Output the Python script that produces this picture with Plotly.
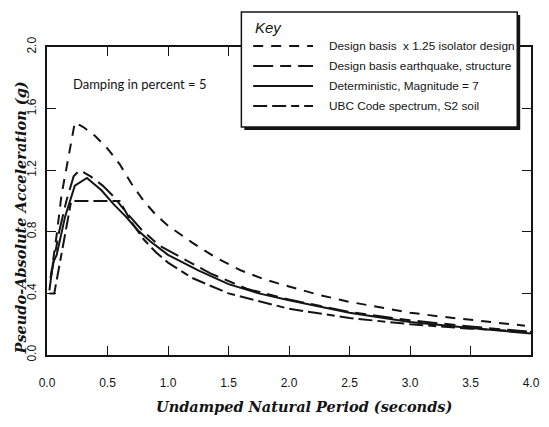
import plotly.graph_objects as go

# ---------------- data ----------------
t_iso = [0.03, 0.08, 0.12, 0.16, 0.23, 0.30, 0.40, 0.50, 0.60, 0.70, 0.80, 0.90, 1.00, 1.20,
         1.40, 1.60, 1.80, 2.00, 2.25, 2.50, 2.75, 3.00, 3.25, 3.50, 3.75, 3.95]
a_iso = [0.50, 0.78, 1.04, 1.22, 1.51, 1.48, 1.42, 1.34, 1.24, 1.11, 1.00, 0.91, 0.84, 0.73,
         0.63, 0.55, 0.49, 0.445, 0.39, 0.345, 0.31, 0.275, 0.25, 0.23, 0.21, 0.19]

t_dbe = [0.03, 0.10, 0.16, 0.22, 0.27, 0.36, 0.46, 0.55, 0.65, 0.78, 0.93, 1.05, 1.35,
         1.65, 2.00, 2.50, 3.00, 3.50, 4.00]
a_dbe = [0.50, 0.80, 1.00, 1.16, 1.20, 1.16, 1.10, 1.03, 0.93, 0.815, 0.71, 0.66, 0.53,
         0.43, 0.36, 0.28, 0.225, 0.185, 0.15]

t_det = [0.02, 0.05, 0.08, 0.15, 0.23, 0.33, 0.45, 0.55, 0.65, 0.75, 0.85, 1.00, 1.25,
         1.50, 1.75, 2.00, 2.50, 3.00, 3.50, 4.00]
a_det = [0.42, 0.60, 0.65, 0.90, 1.10, 1.15, 1.07, 0.98, 0.90, 0.81, 0.74, 0.65, 0.55,
         0.46, 0.40, 0.355, 0.275, 0.215, 0.175, 0.14]

t_ubc = [0.02, 0.06, 0.20, 0.60, 0.70, 0.80, 0.90, 1.00, 1.20, 1.50, 2.00, 2.50, 3.00, 3.50, 4.00]
a_ubc = [0.40, 0.40, 1.00, 1.00, 0.86, 0.75, 0.667, 0.60, 0.50, 0.40, 0.30, 0.24, 0.20, 0.171, 0.15]

series_names = ["Design basis  x 1.25 isolator design",
                "Design basis earthquake, structure",
                "Deterministic, Magnitude = 7",
                "UBC Code spectrum, S2 soil"]

x_ticks = [0.0, 0.5, 1.0, 1.5, 2.0, 2.5, 3.0, 3.5, 4.0]
y_ticks = [0.0, 0.4, 0.8, 1.2, 1.6, 2.0]

# ---------------- styling ----------------
INK = "#141414"
dashes = ["10px,8px", "20px,7px,11px,7px", "solid", "14px,5px,14px,5px,8px,5px"]

W, H = 549, 427
ML, MR, MT, MB = 47, 9, 47, 72
PW, PH = W - ML - MR, H - MT - MB

def px(x):
    return (x - ML) / PW

def py(y):
    return (H - MB - y) / PH

fig = go.Figure()
for (t, a), name, d in zip([(t_iso, a_iso), (t_dbe, a_dbe), (t_det, a_det), (t_ubc, a_ubc)],
                           series_names, dashes):
    fig.add_trace(go.Scatter(x=t, y=a, mode="lines", name=name,
                             line=dict(color=INK, width=2, dash=d), showlegend=False))

# ---------------- key box (drawn) ----------------
shapes = []
bx0, bx1, by0, by1 = 245, 526, 12, 127
shapes.append(dict(type="rect", xref="paper", yref="paper", layer="above",
                   x0=px(bx0 + 3), x1=px(bx1 + 3), y0=py(by1 + 3), y1=py(by0 + 3),
                   fillcolor=INK, line=dict(width=0)))
shapes.append(dict(type="rect", xref="paper", yref="paper", layer="above",
                   x0=px(bx0), x1=px(bx1), y0=py(by1), y1=py(by0),
                   fillcolor="white", line=dict(color=INK, width=1.5)))
rows_y = [46, 66, 86, 106]
annotations = [dict(text="<i>Key</i>", xref="paper", yref="paper", x=px(257), y=py(27),
                    xanchor="left", yanchor="middle", showarrow=False,
                    font=dict(family="Liberation Sans", size=15, color=INK))]
for ry, name, d in zip(rows_y, series_names, dashes):
    shapes.append(dict(type="line", xref="paper", yref="paper", layer="above",
                       x0=px(257), x1=px(318), y0=py(ry), y1=py(ry),
                       line=dict(color=INK, width=2, dash=d)))
    annotations.append(dict(text=name, xref="paper", yref="paper", x=px(332), y=py(ry),
                            xanchor="left", yanchor="middle", showarrow=False,
                            font=dict(family="Liberation Sans", size=11.8, color=INK)))

annotations.append(dict(text="Damping in percent = 5", xref="paper", yref="paper",
                        x=px(71), y=py(84), xanchor="left", yanchor="middle", showarrow=False,
                        font=dict(family="Lato", size=13, color=INK)))

# axis titles
annotations.append(dict(text="<b><i>Undamped Natural Period (seconds)</i></b>",
                        xref="paper", yref="paper", x=px(309), y=py(406),
                        xanchor="center", yanchor="middle", showarrow=False,
                        font=dict(family="DejaVu Serif", size=14.5, color=INK)))
annotations.append(dict(text="<b><i>Pseudo-Absolute Acceleration (g)</i></b>",
                        xref="paper", yref="paper", x=px(20), y=py(218), textangle=-90,
                        xanchor="center", yanchor="middle", showarrow=False,
                        font=dict(family="DejaVu Serif", size=14.5, color=INK)))

axis_common = dict(showline=True, linecolor=INK, linewidth=1.5, mirror="ticks",
                   ticks="inside", ticklen=9, tickwidth=1.3, tickcolor=INK,
                   showgrid=False, zeroline=False,
                   tickfont=dict(family="Liberation Sans", size=12, color=INK))

fig.update_layout(
    width=W, height=H,
    margin=dict(l=ML, r=MR, t=MT, b=MB),
    paper_bgcolor="white", plot_bgcolor="white",
    shapes=shapes, annotations=annotations,
    xaxis=dict(range=[0, 4], tickvals=x_ticks, ticktext=[f"{v:.1f}" for v in x_ticks],
               ticklabelstandoff=16, **axis_common),
    yaxis=dict(range=[0, 2], tickvals=y_ticks, ticktext=[f"{v:.1f}" for v in y_ticks],
               tickangle=-90, ticklabelstandoff=4, **axis_common),
)

fig.write_html("out.html")
